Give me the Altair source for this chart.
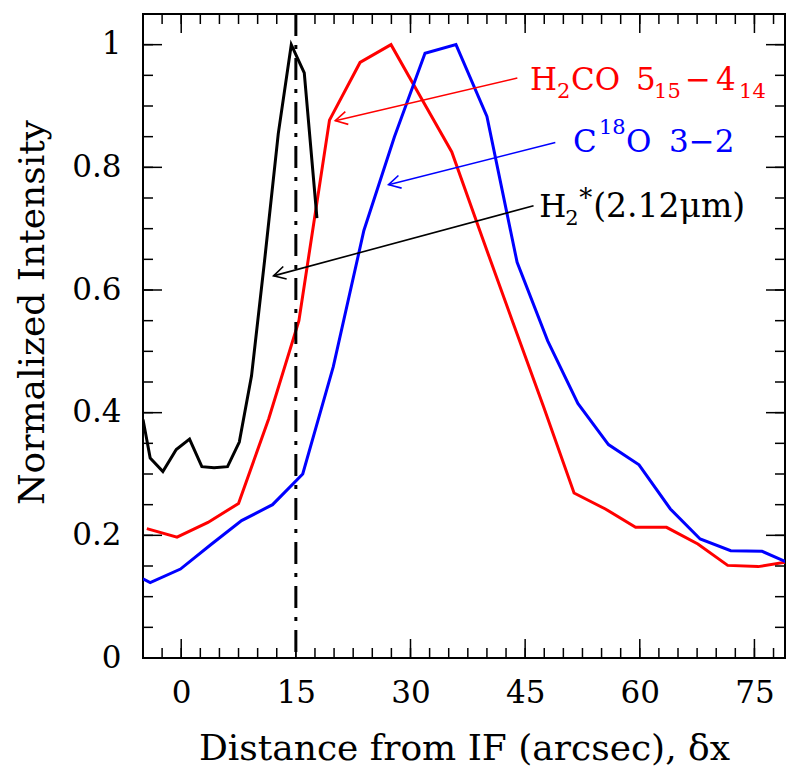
import math
import altair as alt
import pandas as pd

# ---------------- data ----------------
h2_x = [-5.0, -4.06, -2.4, -0.65, 1.09, 2.7, 4.3, 6.06, 7.6, 9.2, 10.9, 12.7, 14.4, 16.1, 17.76]
h2_y = [0.389, 0.326, 0.304, 0.340, 0.357, 0.312, 0.310, 0.312, 0.352, 0.460, 0.647, 0.855, 1.0, 0.954, 0.717]

h2co_x = [-4.5, -0.55, 3.5, 7.5, 11.45, 15.4, 19.4, 23.4, 27.45, 31.45, 35.4, 39.4, 43.4, 47.4,
          51.4, 55.5, 59.45, 63.5, 67.6, 71.5, 75.5, 79.5]
h2co_y = [0.211, 0.197, 0.221, 0.252, 0.390, 0.550, 0.877, 0.971, 1.0, 0.912, 0.825, 0.685, 0.547, 0.410,
          0.269, 0.243, 0.213, 0.213, 0.186, 0.151, 0.149, 0.157]

c18o_x = [-5.0, -4.06, -0.1, 3.9, 7.9, 11.95, 15.9, 19.9, 23.9, 27.9, 31.9, 35.95, 40.0, 43.95,
          47.95, 51.9, 55.9, 59.9, 64.0, 67.9, 71.9, 76.0, 80.0]
c18o_y = [0.129, 0.123, 0.145, 0.185, 0.224, 0.250, 0.300, 0.475, 0.697, 0.850, 0.986, 1.0, 0.883, 0.645,
          0.517, 0.415, 0.348, 0.315, 0.243, 0.194, 0.175, 0.174, 0.152]

x_major = [0, 15, 30, 45, 60, 75]
x_minor = [i * 2.5 for i in range(-2, 32)]
y_major = [0, 0.2, 0.4, 0.6, 0.8, 1.0]
y_minor = [round(i * 0.05, 2) for i in range(0, 21)]

ref_x = [15]

# annotation anchors (data units), arrow start / tip, colours
ann_tx = [45.64, 51.26, 46.83]
ann_ty = [0.926, 0.825, 0.719]
arr_x0 = [43.98, 48.95, 46.1]
arr_y0 = [0.9456, 0.8404, 0.7374]
arr_x1 = [20.16, 27.13, 12.08]
arr_y1 = [0.876, 0.7717, 0.623]
ann_col = ["#ff0000", "#0000ff", "#000000"]

# label pieces: (label index, text, kind)
pieces = [
    (0, "H", "n"), (0, "2", "sub"), (0, "CO", "n"), (0, "5", "n"), (0, "15", "sub"),
    (0, "\u2212", "n"), (0, "4", "n"), (0, "14", "sub"),
    (1, "C", "n"), (1, "18", "sup"), (1, "O", "n"), (1, "3\u22122", "n"),
    (2, "H", "n"), (2, "2", "sub"), (2, "*", "star"), (2, "(2.12\u03bcm)", "wide"),
]
piece_dx = [0, 27, 41, 106, 124, 155, 186, 209,
            0, 26, 53, 96,
            0, 26, 40, 54]

# ---------------- layout ----------------
W, H = 642, 644
XMIN, XMAX = -5, 79
YMIN, YMAX = 0, 1.05
FONT = "DejaVu Serif"
FS = 31
FS_TITLE = 36
FS_SMALL = 21

xs = alt.Scale(domain=[XMIN, XMAX], nice=False, zero=False)
ys = alt.Scale(domain=[YMIN, YMAX], nice=False, zero=False)

x_axis = alt.Axis(values=x_major, ticks=False, domain=False, grid=False, labelPadding=20,
                  labelFont=FONT, labelFontSize=FS, labelColor="black",
                  title="Distance from IF (arcsec), \u03b4x", titleFont=FONT, titleFontSize=FS_TITLE,
                  titleFontWeight="normal", titleColor="black", titleBaseline="alphabetic", titleY=101)
y_axis = alt.Axis(values=y_major, format="~g", ticks=False, domain=False, grid=False, labelPadding=22,
                  labelFont=FONT, labelFontSize=FS, labelColor="black",
                  title="Normalized Intensity", titleFont=FONT, titleFontSize=FS_TITLE,
                  titleFontWeight="normal", titleColor="black", titleBaseline="alphabetic",
                  titleX=-100, titleY=298)

def X(f):
    return alt.X(f, scale=xs, axis=x_axis)

def Y(f):
    return alt.Y(f, scale=ys, axis=y_axis)

def line(xv, yv, color):
    df = pd.DataFrame({"x": xv, "y": yv})
    return alt.Chart(df).mark_line(color=color, strokeWidth=3, clip=True).encode(x=X("x:Q"), y=Y("y:Q"))

layers = [line(h2co_x, h2co_y, "#ff0000"), line(c18o_x, c18o_y, "#0000ff"), line(h2_x, h2_y, "#000000")]

# dash-dot reference line
layers.append(alt.Chart(pd.DataFrame({"x": ref_x})).mark_rule(
    color="black", strokeWidth=3, strokeDash=[22, 9, 4, 9]).encode(x=X("x:Q")))

# inward ticks on all four sides
def xticks(vals, length):
    df = pd.DataFrame({"x": vals})
    b = alt.Chart(df).mark_rule(color="black", strokeWidth=1.5).encode(
        x=X("x:Q"), y=alt.value(H), y2=alt.value(H - length))
    t = alt.Chart(df).mark_rule(color="black", strokeWidth=1.5).encode(
        x=X("x:Q"), y=alt.value(0), y2=alt.value(length))
    return [b, t]

def yticks(vals, length):
    df = pd.DataFrame({"y": vals})
    l = alt.Chart(df).mark_rule(color="black", strokeWidth=1.5).encode(
        y=Y("y:Q"), x=alt.value(0), x2=alt.value(length))
    r = alt.Chart(df).mark_rule(color="black", strokeWidth=1.5).encode(
        y=Y("y:Q"), x=alt.value(W), x2=alt.value(W - length))
    return [l, r]

layers += xticks(x_minor, 10) + xticks(x_major, 19)
layers += yticks(y_minor, 10) + yticks(y_major, 19)

# arrows
px_x = W / (XMAX - XMIN)
px_y = H / (YMAX - YMIN)
ang = [math.degrees(math.atan2(-(d - b) * px_y, (c - a) * px_x)) % 360
       for a, b, c, d in zip(arr_x0, arr_y0, arr_x1, arr_y1)]
arr = pd.DataFrame({"x0": arr_x0, "y0": arr_y0, "x1": arr_x1, "y1": arr_y1, "c": ann_col, "ang": ang})

layers.append(alt.Chart(arr).mark_rule(strokeWidth=1.6).encode(
    x=X("x0:Q"), y=Y("y0:Q"), x2="x1:Q", y2="y1:Q", color=alt.Color("c:N", scale=None)))
layers.append(alt.Chart(arr).mark_point(shape="M -1 -0.55 L 0 0 L -1 0.55", filled=False,
                                        size=560, strokeWidth=1.6, opacity=1).encode(
    x=X("x1:Q"), y=Y("y1:Q"), angle=alt.Angle("ang:Q", scale=None), color=alt.Color("c:N", scale=None)))

# label pieces
style = {"n": (FS, 0), "wide": (33, 0), "sub": (FS_SMALL, 8), "sup": (FS_SMALL, -18), "star": (26, -10)}
for (li, txt, kind), dx in zip(pieces, piece_dx):
    size, dy = style[kind]
    df = pd.DataFrame({"x": [ann_tx[li]], "y": [ann_ty[li]], "t": [txt]})
    layers.append(alt.Chart(df).mark_text(align="left", baseline="alphabetic", font=FONT,
                                          fontSize=size, dx=dx, dy=dy, color=ann_col[li]).encode(
        x=X("x:Q"), y=Y("y:Q"), text="t:N"))

chart = alt.layer(*layers).properties(
    width=W, height=H,
    autosize=alt.AutoSizeParams(type="none"),
    padding={"left": 135, "top": 6, "right": 7, "bottom": 115},
    background="white",
).configure_view(stroke="black", strokeWidth=2)

chart.save("out.html", embed_options={"renderer": "svg", "actions": False})
